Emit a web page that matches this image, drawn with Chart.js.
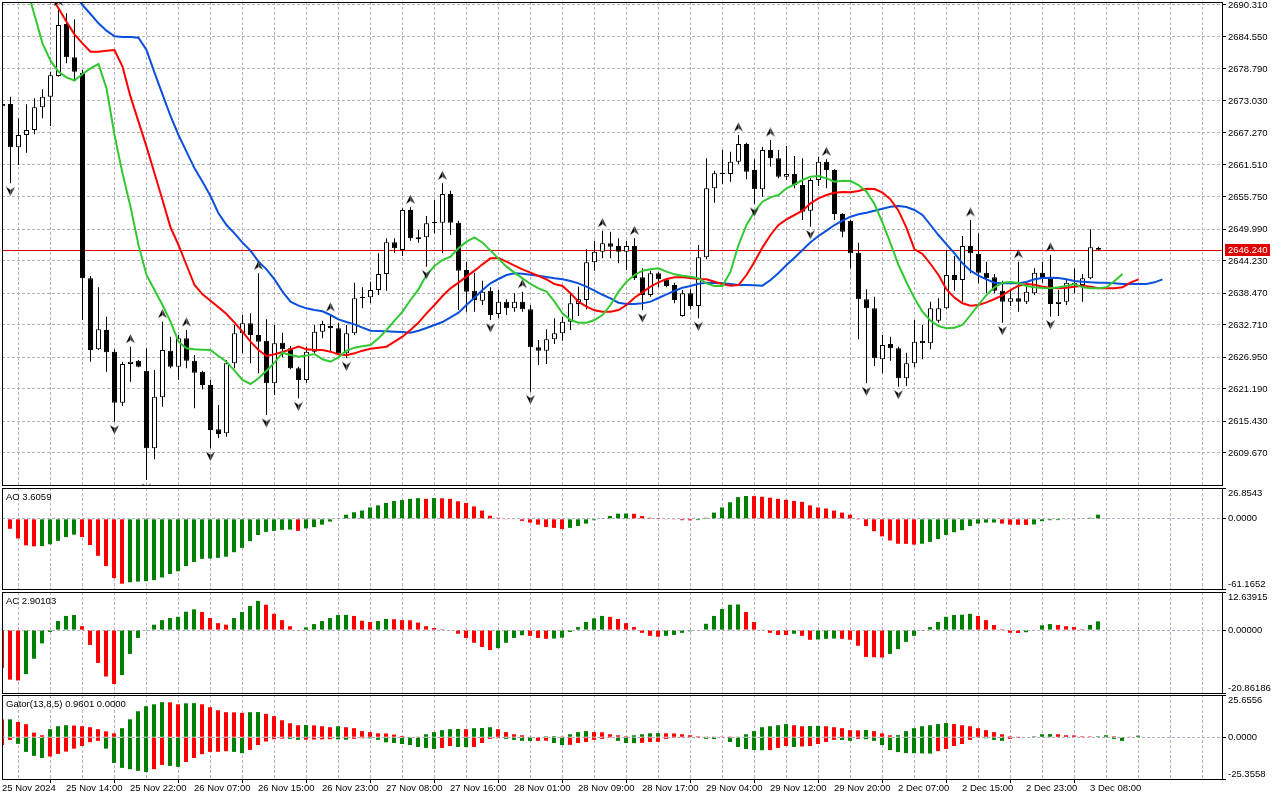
<!DOCTYPE html>
<html><head><meta charset="utf-8">
<script src="https://cdn.jsdelivr.net/npm/chart.js@4.4.0/dist/chart.umd.min.js"></script>
<style>
html,body{margin:0;padding:0;background:#fff;}
#wrap{position:relative;width:1280px;height:800px;overflow:hidden;background:#fff;}
canvas{position:absolute;left:0;}
</style></head><body>
<div id="wrap">
<canvas id="cMain" style="top:0px" width="1280" height="487"></canvas>
<canvas id="cAO" style="top:487px" width="1280" height="103"></canvas>
<canvas id="cAC" style="top:590px" width="1280" height="104"></canvas>
<canvas id="cGator" style="top:694px" width="1280" height="106"></canvas>
</div>
<script>
// ---------------- DATA ----------------
const xTickLabels = ['25 Nov 2024','25 Nov 14:00','25 Nov 22:00','26 Nov 07:00','26 Nov 15:00','26 Nov 23:00','27 Nov 08:00','27 Nov 16:00','28 Nov 01:00','28 Nov 09:00','28 Nov 17:00','29 Nov 04:00','29 Nov 12:00','29 Nov 20:00','2 Dec 07:00','2 Dec 15:00','2 Dec 23:00','3 Dec 08:00'];
const priceTicks = [2690.31,2684.55,2678.79,2673.03,2667.27,2661.51,2655.75,2649.99,2644.23,2638.47,2632.71,2626.95,2621.19,2615.43,2609.67];

const openP = [2672.1,2672.49,2664.69,2666.91,2667.81,2671.89,2673.81,2677.53,2686.89,2680.89,
 2678.13,2641.11,2628.33,2631.81,2627.91,2618.73,2625.69,2626.29,2624.49,2610.51,
 2619.69,2628.09,2625.21,2630.31,2626.29,2624.31,2621.91,2613.93,2613.21,2625.81,
 2631.21,2633.01,2630.91,2629.89,2622.21,2629.53,2628.51,2624.91,2622.81,2627.91,
 2631.51,2632.53,2632.11,2627.61,2631.21,2637.51,2637.69,2639.01,2641.89,2647.59,
 2646.21,2653.41,2648.49,2648.49,2651.01,2651.13,2656.29,2651.13,2642.61,2638.89,
 2637.09,2638.89,2634.69,2636.91,2635.71,2636.91,2635.53,2628.69,2628.09,2630.13,
 2631.21,2633.31,2636.49,2637.21,2643.99,2645.91,2647.41,2646.93,2645.91,2646.93,
 2641.29,2638.11,2642.01,2640.93,2639.91,2634.33,2638.41,2636.13,2644.89,2657.31,
 2659.89,2659.89,2662.11,2665.29,2660.61,2657.13,2664.21,2662.71,2659.41,2659.89,
 2657.91,2653.29,2658.81,2662.11,2660.61,2652.69,2651.49,2645.73,2637.33,2635.71,
 2626.53,2629.29,2628.51,2623.11,2625.81,2629.89,2629.41,2633.49,2635.71,2641.71,
 2640.81,2646.93,2645.49,2642.13,2641.29,2638.89,2636.91,2637.51,2636.91,2638.41,
 2642.13,2641.11,2636.49,2636.91,2640.33,2639.91,2641.11,2646.57];
const highP = [2672.9,2673.81,2669.91,2672.43,2673.51,2675.13,2678.31,2689.5,2688.81,2687.73,
 2678.61,2641.53,2639.49,2634.21,2628.33,2626.11,2628.81,2626.41,2628.51,2624.61,
 2633.31,2630.61,2630.91,2631.81,2627.31,2624.49,2622.81,2618.31,2626.41,2632.71,
 2634.51,2634.81,2642.01,2633.73,2632.71,2631.33,2628.93,2625.21,2628.81,2632.71,
 2633.49,2634.51,2633.01,2632.71,2640.33,2639.49,2640.51,2645.61,2648.31,2648.31,
 2653.71,2653.89,2649.81,2652.33,2655.21,2658.21,2656.89,2651.49,2644.11,2642.13,
 2640.69,2639.49,2639.01,2637.33,2638.41,2638.71,2636.31,2630.01,2631.93,2633.91,
 2634.21,2638.29,2639.61,2646.33,2647.89,2649.69,2649.51,2648.31,2647.89,2648.31,
 2642.91,2642.49,2642.31,2641.11,2640.33,2639.01,2639.13,2647.11,2662.71,2660.49,
 2664.21,2663.91,2666.91,2665.53,2662.53,2664.81,2666.01,2664.21,2664.93,2663.13,
 2662.71,2659.11,2663.01,2662.53,2660.73,2652.81,2651.61,2647.53,2639.13,2637.81,
 2630.91,2630.61,2628.81,2627.73,2633.61,2632.71,2636.91,2637.51,2646.21,2645.13,
 2648.73,2651.61,2649.21,2644.11,2641.89,2640.69,2638.89,2644.11,2639.61,2642.91,
 2644.11,2645.31,2639.01,2640.93,2642.91,2641.89,2649.93,2646.81];
const lowP = [2671.8,2658.21,2661.51,2663.73,2667.03,2669.91,2668.53,2677.41,2679.81,2676.81,
 2633.61,2626.11,2628.2,2624.31,2615.31,2618.13,2622.51,2625.09,2604.81,2608.53,
 2618.01,2624.91,2622.81,2624.91,2617.71,2621.13,2610.51,2612.31,2612.61,2624.91,
 2627.61,2625.81,2624.01,2616.51,2620.11,2626.89,2624.73,2619.51,2622.33,2627.61,
 2630.31,2627.91,2627.31,2626.71,2630.91,2635.71,2636.61,2638.11,2638.89,2645.73,
 2645.13,2647.89,2647.53,2643.21,2649.21,2645.61,2648.91,2635.41,2635.11,2635.11,
 2636.31,2633.61,2633.91,2634.51,2635.11,2635.11,2620.71,2625.51,2625.69,2629.29,
 2629.89,2631.81,2634.33,2635.53,2642.49,2644.71,2644.71,2643.81,2642.61,2640.81,
 2635.41,2637.81,2639.49,2639.49,2636.61,2634.21,2635.53,2633.91,2644.53,2654.73,
 2658.09,2658.51,2661.69,2658.93,2654.49,2655.81,2661.21,2659.11,2658.81,2657.31,
 2651.61,2650.41,2657.73,2657.31,2651.61,2648.49,2642.91,2630.13,2622.21,2625.33,
 2624.01,2626.29,2621.61,2621.73,2625.09,2626.53,2628.33,2633.13,2635.53,2638.89,
 2636.91,2642.01,2640.21,2638.41,2638.41,2633.13,2636.13,2635.11,2636.49,2638.11,
 2640.33,2634.21,2634.33,2636.31,2638.41,2636.91,2640.93,2646.09];
const closeP = [2672.5,2664.69,2666.91,2667.81,2671.89,2673.81,2677.65,2686.71,2680.89,2678.31,
 2641.11,2628.21,2631.93,2627.79,2618.73,2625.69,2626.11,2625.21,2610.51,2619.81,
 2628.21,2625.21,2630.31,2626.29,2624.13,2621.91,2613.81,2613.09,2625.81,2631.21,
 2633.01,2630.91,2629.71,2622.21,2629.41,2628.33,2624.91,2622.81,2627.91,2631.51,
 2632.89,2632.11,2627.61,2631.21,2637.51,2637.81,2639.01,2641.89,2647.59,2646.51,
 2653.41,2648.31,2648.19,2651.01,2651.31,2656.29,2651.13,2642.49,2638.71,2637.21,
 2638.71,2634.51,2636.91,2635.71,2636.91,2635.53,2628.69,2628.09,2630.13,2631.21,
 2633.31,2636.61,2637.33,2643.99,2645.91,2647.41,2646.81,2645.91,2646.93,2641.11,
 2638.11,2642.01,2640.93,2639.73,2637.21,2638.41,2636.13,2644.89,2657.31,2660.01,
 2660.13,2662.11,2665.29,2660.31,2657.13,2664.21,2662.71,2659.41,2659.89,2657.91,
 2653.11,2658.81,2662.11,2660.61,2652.69,2649.51,2645.61,2637.33,2635.71,2626.71,
 2629.11,2628.51,2623.11,2625.81,2629.71,2629.41,2635.71,2635.71,2641.71,2640.81,
 2646.93,2645.61,2642.13,2641.11,2638.89,2636.91,2637.51,2636.91,2638.71,2642.13,
 2641.11,2636.49,2636.91,2640.33,2639.91,2641.11,2646.69,2646.24];

const fractalUpBars = [7,16,20,23,32,41,51,55,65,75,79,92,96,103,121,127,131];
const fractalDownBars = [1,14,18,26,33,37,43,53,61,66,80,87,94,101,108,112,125,131];

const lipsStart = 3;
const lipsValues = [2693.6,2688.51,2683.41,2680.29,2678.31,2677.29,2676.69,2677.89,2678.91,2679.69,
 2675.31,2666.91,2660.01,2654.01,2647.11,2641.71,2639.01,2636.31,2633.31,2629.71,
 2628.51,2628.33,2628.27,2628.21,2627.13,2626.11,2624.49,2622.81,2622.09,2623.11,
 2624.49,2625.93,2627.73,2627.31,2627.01,2627.2,2627.49,2626.53,2626.11,2626.89,
 2628.09,2628.63,2628.87,2629.11,2630.31,2631.81,2633.49,2635.11,2637.21,2639.13,
 2641.71,2643.33,2644.41,2645.01,2646.51,2647.71,2648.49,2647.53,2646.09,2644.65,
 2643.21,2642.13,2641.11,2640.09,2639.31,2638.71,2636.91,2634.81,2633.61,2633.13,
 2633.13,2633.61,2634.51,2636.31,2638.71,2640.51,2641.71,2642.49,2642.73,2642.91,
 2642.31,2641.83,2641.59,2641.41,2641.11,2640.21,2639.73,2639.73,2642.31,2647.11,
 2650.71,2653.11,2654.91,2655.69,2656.11,2657.31,2658.03,2658.81,2659.41,2659.53,
 2659.11,2658.51,2658.69,2658.63,2657.91,2656.71,2654.49,2651.13,2647.41,2643.51,
 2640.4,2637.51,2635.11,2633.49,2632.53,2632.11,2632.23,2632.71,2634.51,2636.31,
 2638.11,2639.49,2640.33,2640.45,2640.27,2639.73,2639.49,2639.37,2639.31,2639.49,
 2639.73,2640.09,2639.49,2639.31,2639.31,2639.49,2640.63,2641.89];
const teethStart = 6;
const teethValues = [2692.1,2689.71,2687.31,2685.03,2683.41,2681.91,2681.91,2682.09,2682.21,2679.21,
 2673.81,2669.31,2664.81,2660.01,2655.2,2650.3,2647.11,2643.51,2639.91,2638.23,
 2637.09,2635.89,2634.69,2633.13,2631.51,2629.71,2628.21,2627.13,2627.43,2627.85,
 2628.33,2628.81,2628.33,2628.21,2628.21,2627.91,2627.43,2627.25,2627.61,2628.09,
 2628.45,2628.63,2628.81,2629.71,2630.61,2631.81,2633.13,2634.81,2636.31,2637.93,
 2639.31,2640.33,2641.41,2642.49,2643.63,2644.71,2644.77,2644.11,2643.39,2642.73,
 2642.13,2641.53,2640.93,2640.09,2639.73,2638.41,2636.91,2636.01,2635.35,2635.11,
 2635.11,2635.41,2636.31,2637.63,2638.59,2639.61,2640.39,2640.99,2641.29,2641.29,
 2641.17,2640.99,2640.93,2640.51,2640.09,2639.79,2639.91,2641.71,2644.11,2646.69,
 2648.91,2650.71,2651.73,2652.51,2653.29,2654.61,2655.51,2656.11,2656.53,2656.65,
 2656.59,2656.83,2657.25,2657.19,2656.53,2655.33,2653.29,2650.2,2646.33,2645.49,
 2643.69,2641.71,2639.13,2637.63,2636.61,2636.19,2636.31,2636.79,2637.39,2638.05,
 2639.01,2639.79,2640.09,2639.97,2639.61,2639.43,2639.31,2639.43,2639.61,2639.79,
 2639.61,2639.31,2639.31,2639.31,2639.49,2640.33,2640.93];
const jawStart = 9;
const jawValues = [2692.1,2690.31,2688.69,2687.01,2685.69,2684.67,2684.55,2684.55,2684.43,2682.21,
 2678.13,2674.23,2670.33,2666.91,2663.91,2660.91,2658.51,2655.93,2652.81,2650.71,
 2649.21,2647.53,2646.09,2644.11,2642.73,2640.93,2638.71,2636.91,2636.19,2635.71,
 2635.41,2635.17,2634.51,2633.73,2633.25,2632.83,2632.23,2631.69,2631.63,2631.57,
 2631.51,2631.45,2631.33,2631.69,2632.17,2632.71,2633.25,2634.09,2634.93,2636.31,
 2637.63,2639.01,2640.21,2640.99,2641.71,2642.01,2641.95,2641.77,2641.59,2641.35,
 2641.11,2640.93,2640.63,2640.21,2639.61,2638.89,2638.15,2637.51,2636.73,2636.49,
 2636.49,2636.61,2636.91,2637.57,2638.23,2638.83,2639.43,2639.73,2640.15,2640.33,
 2640.27,2640.21,2640.09,2639.91,2639.91,2639.85,2639.79,2640.81,2642.07,2643.51,
 2644.83,2646.21,2647.59,2648.73,2649.69,2650.71,2651.49,2652.21,2652.63,2652.93,
 2653.29,2653.65,2654.01,2654.13,2653.95,2653.41,2652.51,2650.71,2648.91,2647.23,
 2645.61,2643.81,2642.49,2641.59,2640.93,2640.33,2640.21,2640.21,2640.21,2640.45,
 2640.93,2641.17,2641.23,2641.17,2640.93,2640.63,2640.51,2640.39,2640.33,2640.33,
 2640.21,2640.09,2640.09,2640.09,2640.09,2640.39,2640.93];

const aoValues = [-0.3,-8.7,-17.1,-23.1,-24.0,-23.8,-22.2,-19.2,-15.9,-13.8,
 -15.9,-22.8,-32.2,-41.2,-51.7,-56.5,-55.3,-54.7,-54.4,-53.4,
 -51.1,-48.1,-45.7,-41.2,-37.6,-34.9,-34.6,-34.0,-33.0,-29.1,
 -25.3,-19.5,-14.1,-11.4,-10.5,-9.6,-9.4,-10.5,-8.4,-7.2,
 -5.1,-2.4,0.3,3.6,5.7,7.2,9.9,11.7,13.8,15.6,
 16.4,17.4,18.0,17.4,18.1,17.9,17.4,15.3,13.8,10.8,
 7.2,2.7,0.9,-0.3,-0.5,-1.8,-3.3,-5.1,-7.2,-7.9,
 -9.0,-7.9,-6.3,-4.2,-1.2,0.6,2.4,4.5,4.6,4.4,
 2.4,0.9,0.1,-0.3,-0.6,-1.2,-1.3,-1.1,0.9,5.4,
 9.9,14.4,18.9,19.9,19.8,19.2,18.4,17.4,16.6,15.6,
 14.8,11.7,9.9,9.0,7.2,5.4,3.6,-0.2,-6.3,-10.8,
 -15.3,-18.9,-21.7,-21.8,-22.5,-21.7,-20.1,-17.7,-14.1,-11.7,
 -9.9,-6.3,-4.2,-3.3,-3.2,-4.2,-5.1,-5.2,-5.3,-4.9,
 -2.1,-1.2,-1.1,-0.3,-0.2,-0.4,0.9,3.6059];
const aoRange = [-61.1652, 26.8543];

const acValues = [-12.6,-16.4,-16.7,-14.6,-9.5,-4.4,-0.6,3.0,4.7,5.0,
 1.3,-4.9,-10.9,-15.4,-17.9,-14.9,-7.9,-2.6,-0.1,1.8,
 3.3,4.0,4.4,6.1,6.9,6.0,4.0,2.3,1.8,4.0,
 6.0,8.0,9.7,8.4,5.4,3.3,1.3,-0.2,0.9,2.0,
 3.0,4.0,5.0,5.05,4.7,3.1,2.7,3.0,3.7,3.6,
 3.3,3.25,2.5,1.3,0.7,0.05,-0.2,-1.2,-2.6,-4.2,
 -5.6,-6.6,-6.0,-4.2,-2.6,-1.7,-1.9,-2.6,-2.9,-2.8,
 -2.5,-0.6,1.0,2.7,3.9,4.7,4.4,3.7,2.3,1.0,
 -0.9,-1.9,-2.2,-1.9,-1.6,-0.9,-0.4,-0.2,2.1,4.7,
 7.0,8.4,8.5,6.0,2.7,0.2,-0.9,-1.6,-1.65,-1.2,
 -1.9,-3.2,-3.1,-2.9,-2.8,-2.9,-3.2,-5.2,-8.9,-9.0,
 -9.1,-7.9,-6.3,-3.9,-1.9,-0.1,1.0,2.7,4.4,5.0,
 5.1,5.4,4.7,3.3,1.7,0.3,-0.9,-0.95,-0.7,0.2,
 1.6,2.0,1.7,1.3,1.0,0.3,1.7,2.90103];
const acRange = [-20.86186, 12.63915];

const gatorUpper = [10.8,10.9,9.3,7.9,2.8,1.2,4.9,6.7,7.3,7.1,
 6.7,6.1,4.9,3.6,2.4,5.5,10.9,15.8,18.8,20.0,
 21.3,21.2,20.0,20.6,20.7,20.0,18.2,16.4,15.2,15.1,
 14.8,15.2,15.3,14.2,12.8,10.3,8.5,7.3,7.4,7.2,
 6.7,6.1,6.7,6.1,5.5,3.7,3.1,2.4,2.3,1.6,
 0.8,0.3,0.2,1.8,3.1,4.3,4.9,5.0,4.9,5.5,
 5.6,6.1,4.9,3.1,1.8,1.2,0.4,0.3,0.6,0.7,
 0.5,1.8,3.1,3.7,3.1,3.0,1.8,1.2,0.6,1.2,
 1.8,2.4,2.5,2.4,2.3,1.8,1.2,0.6,0.4,0.2,
 0.1,0.05,0.2,1.8,3.7,6.1,6.7,7.3,8.0,7.3,
 6.7,6.8,6.9,6.7,6.1,5.5,4.3,4.2,4.4,3.7,
 2.4,1.2,1.3,3.7,5.5,6.7,7.3,8.0,8.6,8.0,
 7.3,6.7,5.5,4.3,3.1,1.8,0.6,0.2,0.3,0.6,
 1.8,1.9,1.8,1.2,1.1,0.6,0.55,0.6,1.2,0.6,
 0.3,0.2,0.9601];
const gatorLower = [-4.7,-1.6,-4.0,-8.9,-11.3,-12.6,-11.7,-10.1,-8.7,-6.9,
 -5.3,-3.0,-2.2,-6.9,-15.6,-18.6,-19.4,-20.4,-21.1,-19.4,
 -16.8,-17.4,-18.0,-15.0,-12.6,-10.3,-8.9,-8.8,-8.5,-8.9,
 -9.7,-7.7,-4.7,-2.6,-1.2,-0.8,-1.0,-1.6,-1.5,-1.4,
 -1.3,-1.2,-1.3,-1.5,-1.0,-0.6,-0.7,-1.6,-3.1,-3.5,
 -4.1,-4.7,-5.9,-6.5,-7.1,-6.5,-5.3,-5.9,-6.0,-5.9,
 -3.5,-1.0,-0.6,-1.0,-1.6,-2.2,-2.3,-2.2,-2.1,-3.5,
 -4.7,-4.6,-3.5,-2.9,-1.6,-1.0,-0.5,-2.2,-3.5,-3.6,
 -3.4,-2.9,-2.8,-1.0,-0.5,-0.4,-0.3,-0.2,-1.0,-1.1,
 -0.3,-2.9,-5.9,-7.1,-7.8,-7.9,-7.8,-6.5,-5.3,-5.9,
 -5.6,-5.3,-4.1,-2.9,-1.6,-1.7,-2.2,-1.0,-1.2,-2.2,
 -4.7,-7.8,-9.0,-9.6,-9.7,-9.8,-9.9,-8.4,-7.1,-5.3,
 -4.1,-1.6,-0.4,-0.6,-1.6,-2.2,-1.0,-0.1,0,0,
 0,0,0,0,0,0,0,0,-0.3,-1.0,
 -2.2];
const gatorRange = [-25.3558, 25.6556];
const gatorTitle = 'Gator(13,8,5) 0.9601 0.0000';

// ---------------- STYLE ----------------
const FONT_FAMILY = "'Liberation Sans', Arial, sans-serif";
const FONT_SIZE = 9.5;
const GREEN = '#008000', RED = '#ff0000';
const H_GRID = '#adb8ad', V_GRID = '#c4abc4', ZERO_LINE = '#b4aec4';
const JAW = '#0a50dc', TEETH = '#ff0000', LIPS = '#32c832';
Chart.defaults.font.family = FONT_FAMILY;
Chart.defaults.font.size = FONT_SIZE;
Chart.defaults.color = '#000';

const gridBars = [];
for (let k = 0; k <= 152; k += 4) gridBars.push(k);

function trendColors(vals, useAbs) {
  return vals.map((v, i) => {
    if (i === 0) return RED;
    const a = useAbs ? Math.abs(v) : v, b = useAbs ? Math.abs(vals[i - 1]) : vals[i - 1];
    return a > b ? GREEN : RED;
  });
}
function series(start, vals) { return vals.map((v, i) => ({x: start + i, y: v})); }
function noScalePadding(s) { s.paddingTop = 0; s.paddingBottom = 0; s.paddingLeft = 0; s.paddingRight = 0; }

function makeArrow(up) {
  const c = document.createElement('canvas');
  c.width = 11; c.height = 31;
  const g = c.getContext('2d');
  g.translate(5.5, up ? 7.5 : 23.5);
  if (!up) g.scale(1, -1);
  g.fillStyle = '#000';
  g.beginPath(); g.moveTo(0, -4.5); g.lineTo(0, 1.5); g.lineTo(-4.5, 4.5); g.closePath(); g.fill();
  g.fillStyle = '#3a3a3a';
  g.beginPath(); g.moveTo(0, -4.5); g.lineTo(4.5, 4.5); g.lineTo(0, 1.5); g.closePath(); g.fill();
  return c;
}
const arrowUp = makeArrow(true), arrowDown = makeArrow(false);

// panel frame + text plugin
const panelDecor = {
  id: 'panelDecor',
  afterDraw(chart, args, opts) {
    const {ctx, chartArea: a} = chart;
    ctx.save();
    ctx.font = FONT_SIZE + 'px ' + FONT_FAMILY;
    ctx.fillStyle = '#000';
    ctx.textBaseline = 'middle';
    ctx.textAlign = 'left';
    if (opts.title) ctx.fillText(opts.title, a.left + 4, a.top + 9);
    if (opts.axisValues) {
      const ys = chart.scales.y;
      opts.axisValues.forEach(v => {
        let py = ys.getPixelForValue(v);
        py = Math.min(Math.max(py, a.top + 5), a.bottom - 5);
        ctx.fillText(v.toFixed(opts.decimals), a.right + 6, py);
      });
    }
    ctx.strokeStyle = '#000';
    ctx.lineWidth = 1;
    ctx.strokeRect(Math.round(a.left) + 0.5, Math.round(a.top) + 0.5, Math.round(a.right - a.left), Math.round(a.bottom - a.top));
    ctx.restore();
  }
};

const lastPrice = closeP[closeP.length - 1];
const priceLine = {
  id: 'priceLine',
  beforeDatasetsDraw(chart) {
    const {ctx, chartArea: a} = chart;
    const py = Math.round(chart.scales.y.getPixelForValue(lastPrice)) + 0.5;
    ctx.save();
    ctx.strokeStyle = '#e00000'; ctx.lineWidth = 1;
    ctx.beginPath(); ctx.moveTo(a.left, py); ctx.lineTo(a.right, py); ctx.stroke();
    ctx.restore();
  },
  afterDraw(chart) {
    const {ctx, chartArea: a} = chart;
    const py = Math.round(chart.scales.y.getPixelForValue(lastPrice));
    ctx.save();
    ctx.fillStyle = '#e00000';
    ctx.fillRect(a.right + 3, py - 6, 45, 12);
    ctx.fillStyle = '#fff';
    ctx.font = FONT_SIZE + 'px ' + FONT_FAMILY;
    ctx.textBaseline = 'middle'; ctx.textAlign = 'left';
    ctx.fillText(lastPrice.toFixed(3), a.right + 6, py);
    ctx.restore();
  }
};

function xScaleCfg(min, max, withLabels) {
  return {
    type: 'linear', min: min, max: max, offset: false,
    afterBuildTicks: s => { s.ticks = gridBars.map(v => ({value: v})); },
    afterFit: s => { s.height = withLabels ? 21 : 0; noScalePadding(s); },
    ticks: withLabels ? {
      display: true, autoSkip: false, maxRotation: 0, minRotation: 0, align: 'start', padding: 0,
      callback: v => (v % 8 === 0 && xTickLabels[v / 8] !== undefined) ? xTickLabels[v / 8] : ''
    } : {display: false},
    grid: {
      color: V_GRID, lineWidth: 1, drawTicks: withLabels, tickLength: 4,
      tickColor: c => (c.tick && c.tick.value % 8 === 0 && xTickLabels[c.tick.value / 8] !== undefined) ? '#000' : 'rgba(0,0,0,0)',
      tickBorderDash: []
    },
    border: {display: false, dash: [3, 2]}
  };
}
function subYScale(range) {
  return {
    position: 'right', min: range[0], max: range[1],
    afterBuildTicks: s => { s.ticks = [range[0], 0, range[1]].map(v => ({value: v})); },
    afterFit: s => { s.width = 58; noScalePadding(s); },
    ticks: {display: false},
    grid: {
      color: c => (c.tick && c.tick.value === 0) ? ZERO_LINE : 'rgba(0,0,0,0)',
      drawTicks: true, tickLength: 4, tickColor: '#000', tickBorderDash: []
    },
    border: {display: false, dash: [3, 2]}
  };
}
const baseOpts = {responsive: false, animation: false, events: [], devicePixelRatio: 1};

// ---------------- MAIN ----------------
const bars = openP.map((o, i) => i);
new Chart(document.getElementById('cMain'), {
  type: 'bar',
  data: {datasets: [
    {type: 'line', data: fractalUpBars.map(k => ({x: k, y: highP[k]})), showLine: false,
     pointStyle: arrowUp, pointRadius: 5, pointHoverRadius: 5, order: 0},
    {type: 'line', data: fractalDownBars.map(k => ({x: k, y: lowP[k]})), showLine: false,
     pointStyle: arrowDown, pointRadius: 5, pointHoverRadius: 5, order: 0},
    {type: 'line', data: series(lipsStart, lipsValues), borderColor: LIPS, borderWidth: 2, pointRadius: 0, tension: 0, order: 1},
    {type: 'line', data: series(teethStart, teethValues), borderColor: TEETH, borderWidth: 2, pointRadius: 0, tension: 0, order: 2},
    {type: 'line', data: series(jawStart, jawValues), borderColor: JAW, borderWidth: 2, pointRadius: 0, tension: 0, order: 3},
    {type: 'bar', data: bars.map(i => ({x: i, y: [Math.min(openP[i], closeP[i]), Math.max(openP[i], closeP[i])]})),
     backgroundColor: bars.map(i => closeP[i] >= openP[i] ? '#ffffff' : '#000000'),
     borderColor: '#000', borderWidth: 1, borderSkipped: false, barThickness: 5, minBarLength: 1,
     grouped: false, inflateAmount: 0, clip: 0, order: 4},
    {type: 'bar', data: bars.map(i => ({x: i, y: [lowP[i], highP[i]]})),
     backgroundColor: '#000', borderWidth: 0, barThickness: 1, grouped: false, inflateAmount: 0, clip: 0, order: 5}
  ]},
  options: Object.assign({}, baseOpts, {
    layout: {autoPadding: false, padding: {left: 2, top: 2, right: 0, bottom: 2}},
    plugins: {legend: {display: false}, tooltip: {enabled: false}, panelDecor: {}},
    scales: {
      x: xScaleCfg(-0.0625, 152.4375, false),
      y: {
        position: 'right', min: 2603.91, max: 2690.85,
        afterBuildTicks: s => { s.ticks = priceTicks.slice().reverse().map(v => ({value: v})); },
        afterFit: s => { s.width = 58; noScalePadding(s); },
        ticks: {autoSkip: false, padding: 2, callback: v => Number(v).toFixed(3)},
        grid: {color: H_GRID, drawTicks: true, tickLength: 4, tickColor: '#000', tickBorderDash: []},
        border: {display: false, dash: [3, 2]}
      }
    }
  }),
  plugins: [panelDecor, priceLine]
});

// ---------------- AO ----------------
new Chart(document.getElementById('cAO'), {
  type: 'bar',
  data: {datasets: [{data: aoValues.map((v, i) => ({x: i, y: v})), backgroundColor: trendColors(aoValues, false),
    barThickness: 4, borderWidth: 0, inflateAmount: 0}]},
  options: Object.assign({}, baseOpts, {
    layout: {autoPadding: false, padding: {left: 2, top: 1, right: 0, bottom: 1}},
    plugins: {legend: {display: false}, tooltip: {enabled: false},
      panelDecor: {title: 'AO ' + aoValues[aoValues.length - 1].toFixed(4), axisValues: [aoRange[1], 0, aoRange[0]], decimals: 4}},
    scales: {x: xScaleCfg(0, 152.5, false), y: subYScale(aoRange)}
  }),
  plugins: [panelDecor]
});

// ---------------- AC ----------------
new Chart(document.getElementById('cAC'), {
  type: 'bar',
  data: {datasets: [{data: acValues.map((v, i) => ({x: i, y: v})), backgroundColor: trendColors(acValues, false),
    barThickness: 4, borderWidth: 0, inflateAmount: 0}]},
  options: Object.assign({}, baseOpts, {
    layout: {autoPadding: false, padding: {left: 2, top: 2, right: 0, bottom: 1}},
    plugins: {legend: {display: false}, tooltip: {enabled: false},
      panelDecor: {title: 'AC ' + acValues[acValues.length - 1].toFixed(5), axisValues: [acRange[1], 0, acRange[0]], decimals: 5}},
    scales: {x: xScaleCfg(0, 152.5, false), y: subYScale(acRange)}
  }),
  plugins: [panelDecor]
});

// ---------------- GATOR ----------------
new Chart(document.getElementById('cGator'), {
  type: 'bar',
  data: {datasets: [
    {data: gatorUpper.map((v, i) => ({x: i, y: v})), backgroundColor: trendColors(gatorUpper, false),
     barThickness: 4, borderWidth: 0, inflateAmount: 0, grouped: false},
    {data: gatorLower.map((v, i) => ({x: i, y: v})), backgroundColor: trendColors(gatorLower, true),
     barThickness: 4, borderWidth: 0, inflateAmount: 0, grouped: false}
  ]},
  options: Object.assign({}, baseOpts, {
    layout: {autoPadding: false, padding: {left: 2, top: 1, right: 0, bottom: 0}},
    plugins: {legend: {display: false}, tooltip: {enabled: false},
      panelDecor: {title: gatorTitle, axisValues: [gatorRange[1], 0, gatorRange[0]], decimals: 4}},
    scales: {x: xScaleCfg(0, 152.5, true), y: subYScale(gatorRange)}
  }),
  plugins: [panelDecor]
});
</script>
</body></html>
